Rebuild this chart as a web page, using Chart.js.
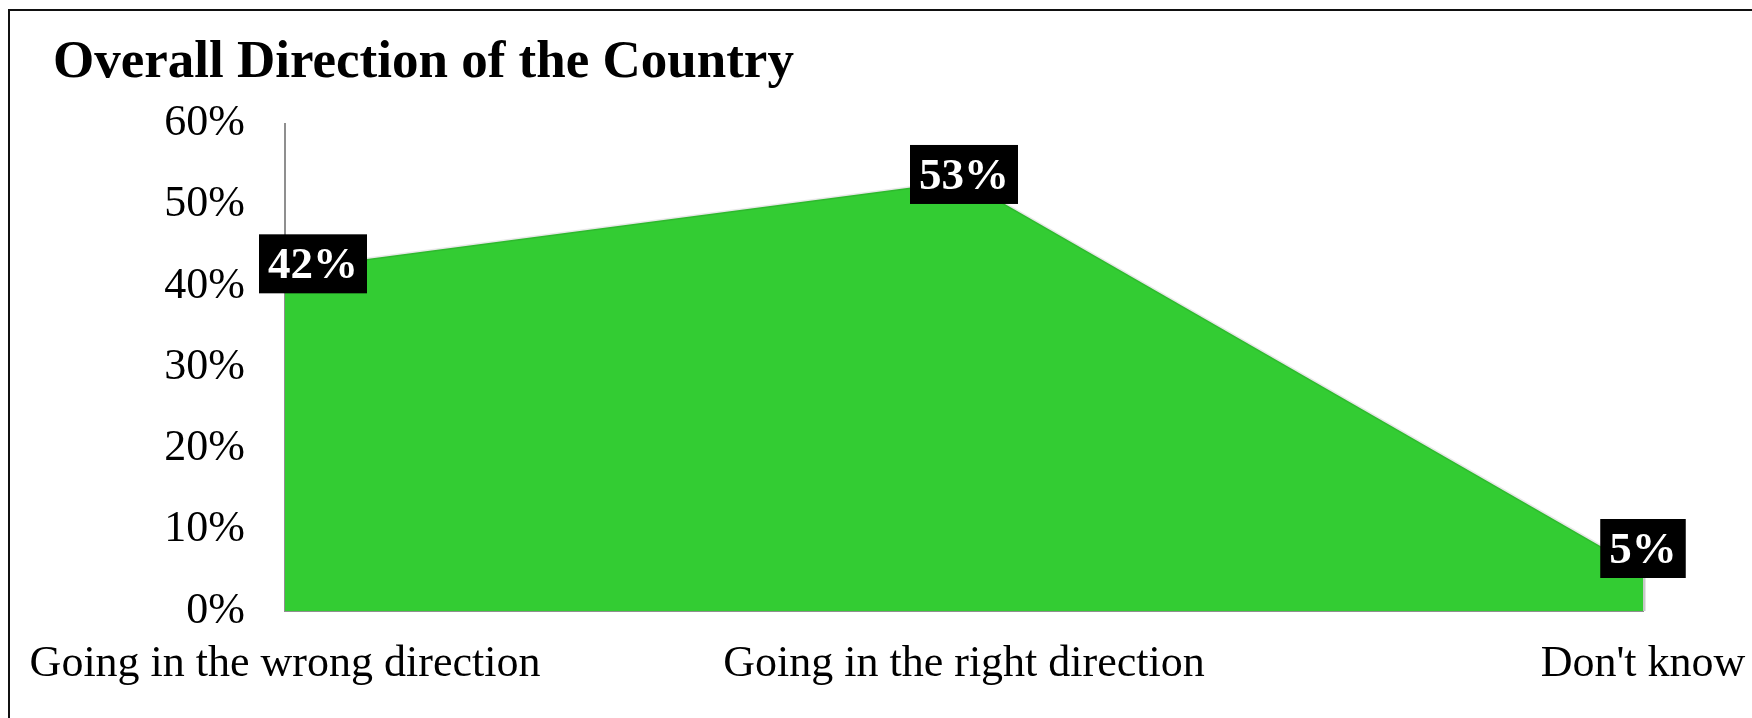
<!DOCTYPE html>
<html>
<head>
<meta charset="utf-8">
<title>Overall Direction of the Country</title>
<script src="https://cdn.jsdelivr.net/npm/chart.js@4.4.1/dist/chart.umd.min.js"></script>
<style>
    html, body { margin: 0; padding: 0; background: #fff; overflow: hidden; }
    #wrap { position: relative; width: 1752px; height: 718px; }
    #frame {
        position: absolute; left: 8px; top: 9px;
        width: 1800px; height: 800px;
        border-left: 2px solid #111; border-top: 2px solid #111;
        pointer-events: none;
    }
    canvas { position: absolute; left: 0; top: 0; }
</style>
</head>
<body>
<div id="wrap">
    <canvas id="directionChart" width="1752" height="718"></canvas>
    <div id="frame"></div>
</div>
<script>
// survey answers and share of respondents (%)
var categories = ['Going in the wrong direction', 'Going in the right direction', "Don't know"];
var shares = [42, 53, 5];
var yTicks = [0, 10, 20, 30, 40, 50, 60];

var serif = "'Liberation Serif', 'DejaVu Serif', serif";

// white-on-black value tags over each point
var valueTags = {
    id: 'valueTags',
    afterDatasetsDraw: function (chart) {
        var ctx = chart.ctx;
        var area = chart.chartArea;
        var meta = chart.getDatasetMeta(0);
        ctx.save();
        ctx.font = 'bold 45px ' + serif;
        ctx.textAlign = 'center';
        ctx.textBaseline = 'middle';
        meta.data.forEach(function (pt, i) {
            var text = chart.data.datasets[0].data[i] + '%';
            var w = ctx.measureText(text).width + 18;
            var h = 59;
            var left = Math.max(pt.x - w / 2, area.left - 26);
            // keep tags clear of the category axis
            var cy = Math.min(pt.y - 6, area.bottom - 33 - h / 2);
            ctx.fillStyle = '#000';
            ctx.fillRect(left, cy - h / 2, w, h);
            ctx.fillStyle = '#fff';
            ctx.fillText(text, left + w / 2, cy + 3);
        });
        ctx.restore();
    }
};

// soft edge on the right side of the filled area
var areaEdge = {
    id: 'areaEdge',
    beforeDatasetsDraw: function (chart) {
        var meta = chart.getDatasetMeta(0);
        var last = meta.data[meta.data.length - 1];
        var ctx = chart.ctx;
        ctx.save();
        ctx.strokeStyle = '#c8c8c8';
        ctx.lineWidth = 3;
        ctx.beginPath();
        ctx.moveTo(last.x + 1, last.y);
        ctx.lineTo(last.x + 1, chart.chartArea.bottom);
        ctx.stroke();
        ctx.restore();
    }
};

Chart.defaults.color = '#000';
Chart.defaults.font.family = serif;

var ctx = document.getElementById('directionChart').getContext('2d');
var directionChart = new Chart(ctx, {
    type: 'line',
    data: {
        labels: categories,
        datasets: [{
            label: 'Direction',
            data: shares,
            fill: 'origin',
            backgroundColor: '#33CC33',
            borderColor: 'rgba(0,0,0,0.09)',
            borderWidth: 3,
            tension: 0,
            pointRadius: 0
        }]
    },
    options: {
        responsive: false,
        animation: false,
        devicePixelRatio: 1,
        layout: { padding: { left: 53, right: 109, top: 0, bottom: 0 } },
        plugins: {
            legend: { display: false },
            tooltip: { enabled: false },
            title: {
                display: true,
                text: 'Overall Direction of the Country',
                align: 'start',
                color: '#000',
                font: { family: serif, size: 53, weight: 'bold', lineHeight: 1.2 },
                padding: { top: 32, bottom: 28 }
            }
        },
        scales: {
            x: {
                offset: false,
                grid: { display: false, drawTicks: false },
                border: { display: true, color: '#8f8f8f', width: 2 },
                ticks: {
                    font: { size: 44, lineHeight: 1.2 },
                    padding: 27,
                    maxRotation: 0,
                    autoSkip: false
                },
                afterFit: function (scale) {
                    scale.height = 107;
                    // end labels may hang past the plot; the side margins are set by layout
                    scale.paddingLeft = 0;
                    scale.paddingRight = 0;
                }
            },
            y: {
                min: 0,
                max: 60,
                grid: { display: false, drawTicks: false },
                border: { display: true, color: '#8f8f8f', width: 2 },
                afterBuildTicks: function (scale) {
                    scale.ticks = yTicks.map(function (v) { return { value: v }; });
                },
                ticks: {
                    font: { size: 44, lineHeight: 1.2 },
                    padding: 40,
                    callback: function (v) { return v + '%'; }
                },
                afterFit: function (scale) { scale.width = 232; }
            }
        }
    },
    plugins: [areaEdge, valueTags]
});
</script>
</body>
</html>
